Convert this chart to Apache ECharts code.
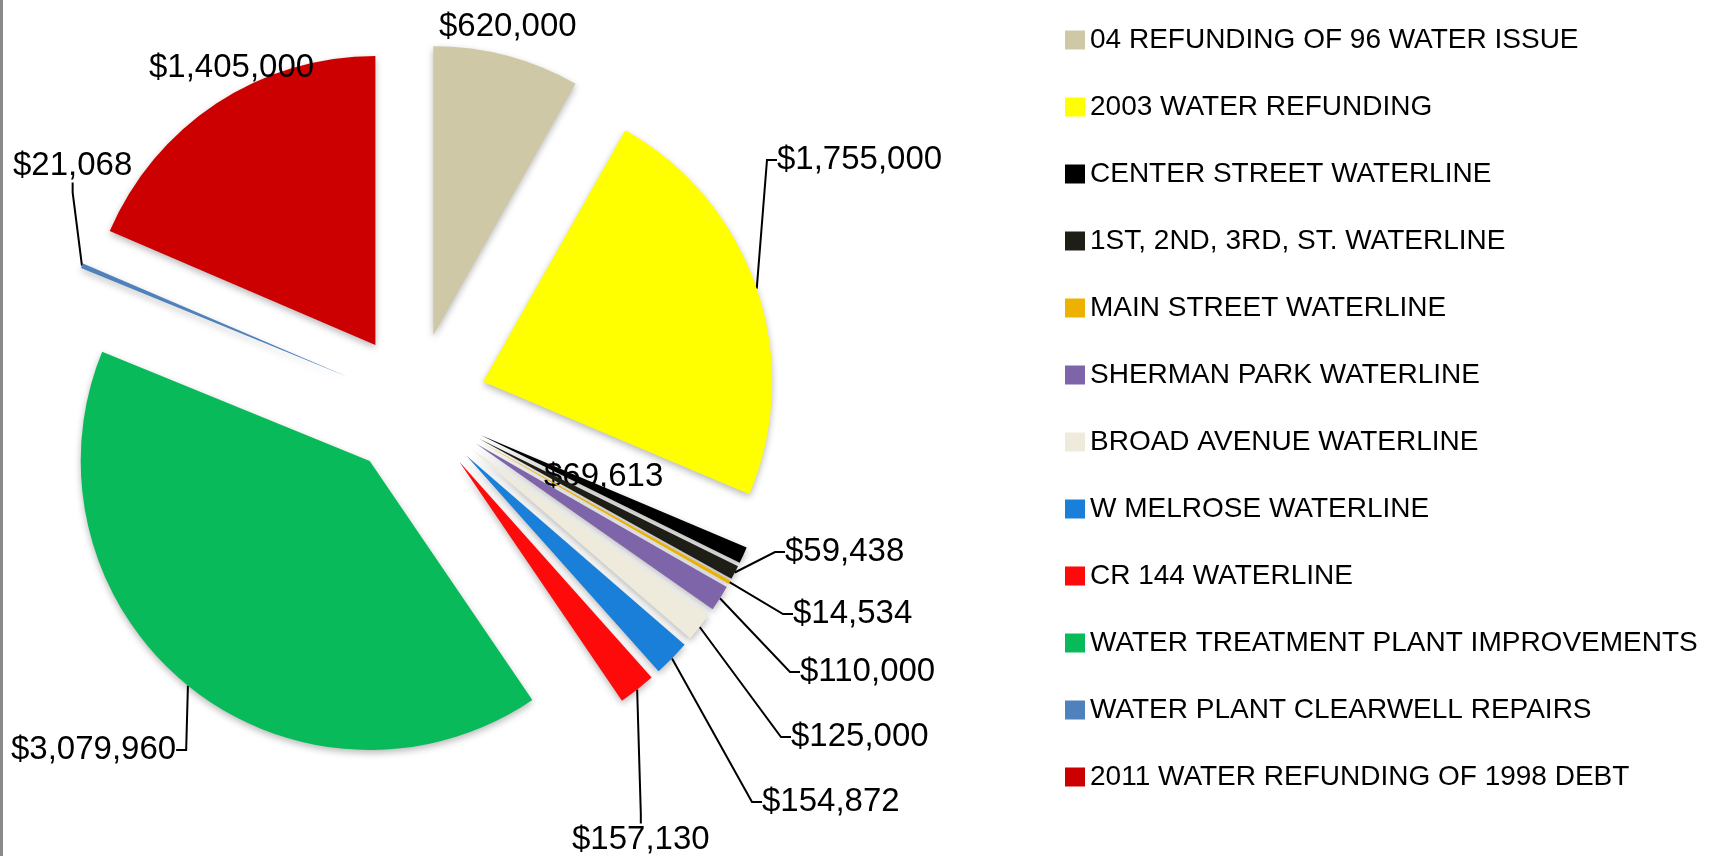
<!DOCTYPE html>
<html>
<head>
<meta charset="utf-8">
<script src="https://cdn.jsdelivr.net/npm/echarts@6/dist/echarts.min.js"></script>
<style>
  html, body { margin: 0; padding: 0; background: #fff; }
  #chart { width: 1716px; height: 856px; }
</style>
</head>
<body>
<div id="chart"></div>
<script>
// ---- data ----
const categories = [
  '04 REFUNDING OF 96 WATER ISSUE',
  '2003 WATER REFUNDING',
  'CENTER STREET WATERLINE',
  '1ST, 2ND, 3RD, ST. WATERLINE',
  'MAIN STREET WATERLINE',
  'SHERMAN PARK WATERLINE',
  'BROAD AVENUE WATERLINE',
  'W MELROSE WATERLINE',
  'CR 144 WATERLINE',
  'WATER TREATMENT PLANT IMPROVEMENTS',
  'WATER PLANT CLEARWELL REPAIRS',
  '2011 WATER REFUNDING OF 1998 DEBT'
];
const values = [620000, 1755000, 69613, 59438, 14534, 110000, 125000, 154872, 157130, 3079960, 21068, 1405000];

// ---- styles / layout ----
const colors = ['#CFC8A6', '#FFFF00', '#000000', '#1E1E16', '#EDB100', '#7E64A8', '#EEEBDC',
                '#1A7FD9', '#FF0A0A', '#09BA5A', '#4F81BD', '#CC0000'];
const noLeader = [0, 2, 11];
// label anchor (left edge, vertical middle) in pixels
const labelPos = {
  0: [439, 27], 1: [777, 160], 2: [544, 477], 3: [785, 552], 4: [793, 614], 5: [800, 672],
  6: [791, 737], 7: [762, 802], 8: [572, 840], 9: [11, 750], 10: [13, 166], 11: [149, 68]
};
const FONT = "'Liberation Sans', Arial, sans-serif";
const CX = 415, CY = 405, RADIUS = 289, EXPLODE = 72;

function money(v) {
  return '$' + v.toString().replace(/\B(?=(\d{3})+(?!\d))/g, ',');
}

// Exploded pie: one pie series per slice (same data, only that slice visible),
// each series centre pushed out along the slice's middle direction.
const total = values.reduce((a, b) => a + b, 0);
let acc = 0;
const midAngles = values.map(v => { const m = (acc + v / 2) / total * 2 * Math.PI; acc += v; return m; });

const series = categories.map((_, i) => ({
  type: 'pie',
  name: 's' + i,
  center: [CX + EXPLODE * Math.sin(midAngles[i]), CY - EXPLODE * Math.cos(midAngles[i])],
  radius: [0, RADIUS],
  startAngle: 90,
  clockwise: true,
  avoidLabelOverlap: false,
  silent: true,
  emphasis: { disabled: true },
  z: 2 + i,
  data: categories.map((name, j) => ({
    name: name,
    value: values[j],
    itemStyle: j === i
      ? { color: colors[j], shadowBlur: 7, shadowColor: 'rgba(0,0,0,0.28)', shadowOffsetY: 3 }
      : { color: 'rgba(0,0,0,0)' },
    label: { show: j === i },
    labelLine: { show: j === i && noLeader.indexOf(j) < 0 }
  })),
  label: {
    position: 'outside',
    formatter: p => money(p.value),
    fontSize: 33,
    fontFamily: FONT,
    color: '#000'
  },
  labelLine: {
    length: 8,
    length2: 10,
    lineStyle: { color: '#000', width: 2 }
  },
  labelLayout: function (params) {
    const p = labelPos[params.dataIndex];
    return { x: p[0], y: p[1], align: 'left', verticalAlign: 'middle', hideOverlap: false };
  }
}));

const chart = echarts.init(document.getElementById('chart'), null, { renderer: 'canvas' });
chart.setOption({
  animation: false,
  backgroundColor: '#ffffff',
  graphic: [{
    type: 'rect', left: 0, top: 0, shape: { width: 3, height: 856 },
    style: { fill: '#8a8a8a' }, silent: true
  }],
  legend: {
    orient: 'vertical',
    left: 1060,
    top: 20,
    itemWidth: 20,
    itemHeight: 19,
    itemGap: 37,
    icon: 'rect',
    selectedMode: false,
    data: categories.map((n, i) => ({ name: n, itemStyle: { color: colors[i] } })),
    textStyle: { fontSize: 28, lineHeight: 30, fontFamily: FONT, color: '#000' }
  },
  series: series
});
</script>
</body>
</html>
